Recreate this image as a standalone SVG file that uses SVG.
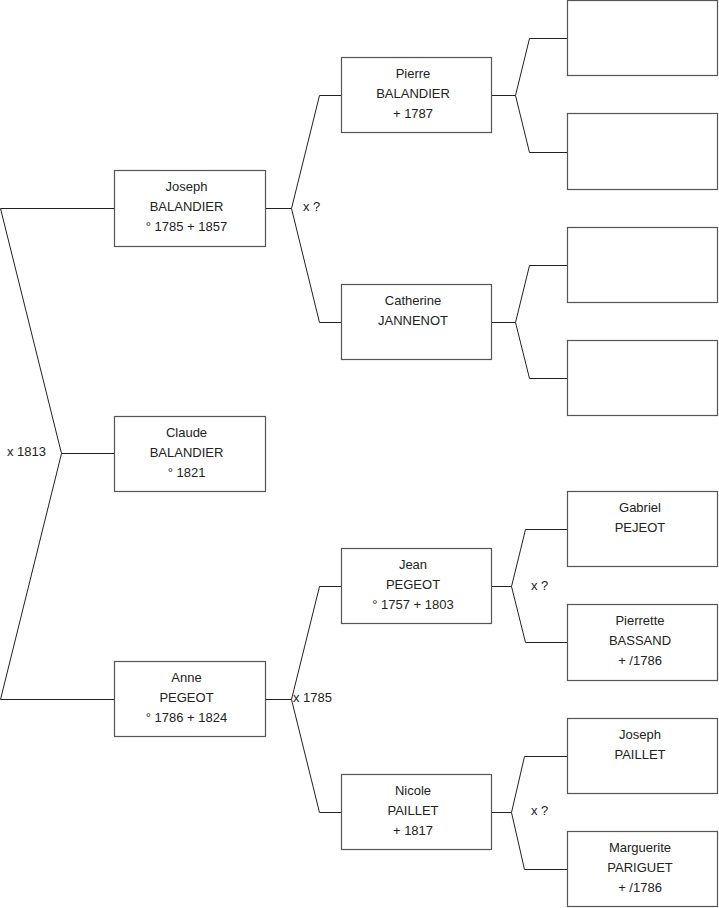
<svg xmlns="http://www.w3.org/2000/svg" width="719" height="908" viewBox="0 0 719 908">
<style>
  .box { fill: #ffffff; stroke: #555555; stroke-width: 1.2; }
  .t { font-family: "Liberation Sans", Arial, sans-serif; font-size: 13px; fill: #222222; text-anchor: middle; }
  .lbl { font-family: "Liberation Sans", Arial, sans-serif; font-size: 13px; fill: #222222; }
  .c { fill: none; stroke: #222222; stroke-width: 1; }
</style>
<rect x="0" y="0" width="719" height="908" fill="#ffffff"/>
<g id="connectors">
  <polyline class="c" points="114,208.5 0.5,208.5 61.5,453.5 0.5,699.5 114,699.5"/>
  <line class="c" x1="61.5" y1="453.5" x2="114" y2="453.5"/>
  <polyline class="c" points="341,95.5 319.5,95.5 291.5,208.5 319.5,322.5 341,322.5"/>
  <line class="c" x1="265" y1="208.5" x2="291.5" y2="208.5"/>
  <polyline class="c" points="341,586.5 319.5,586.5 291.5,699.5 319.5,812.5 341,812.5"/>
  <line class="c" x1="265" y1="699.5" x2="291.5" y2="699.5"/>
  <polyline class="c" points="567,38.5 529.5,38.5 515.5,95.5 529.5,152.5 567,152.5"/>
  <line class="c" x1="492" y1="95.5" x2="515.5" y2="95.5"/>
  <polyline class="c" points="567,265.5 529.5,265.5 515.5,322.5 529.5,378.5 567,378.5"/>
  <line class="c" x1="492" y1="322.5" x2="515.5" y2="322.5"/>
  <polyline class="c" points="567,529.5 525.5,529.5 511.5,586.5 525.5,642.5 567,642.5"/>
  <line class="c" x1="492" y1="586.5" x2="511.5" y2="586.5"/>
  <polyline class="c" points="567,756.5 524.5,756.5 511.5,812.5 524.5,869.5 567,869.5"/>
  <line class="c" x1="492" y1="812.5" x2="511.5" y2="812.5"/>
  <text class="lbl" x="7" y="456">x 1813</text>
  <text class="lbl" x="303" y="211">x ?</text>
  <text class="lbl" x="293" y="702">x 1785</text>
  <text class="lbl" x="531" y="590">x ?</text>
  <text class="lbl" x="531" y="815">x ?</text>
</g>
<g id="joseph-balandier">
  <rect class="box" x="114.5" y="170.5" width="151" height="76"/>
  <text class="t" x="186.5" y="190.5">Joseph</text>
  <text class="t" x="186.5" y="210.5">BALANDIER</text>
  <text class="t" x="186.5" y="230.5">° 1785 + 1857</text>
</g>
<g id="claude-balandier">
  <rect class="box" x="114.5" y="416.5" width="151" height="75"/>
  <text class="t" x="186.5" y="436.5">Claude</text>
  <text class="t" x="186.5" y="456.5">BALANDIER</text>
  <text class="t" x="186.5" y="476.5">° 1821</text>
</g>
<g id="anne-pegeot">
  <rect class="box" x="114.5" y="661.5" width="151" height="75"/>
  <text class="t" x="186.5" y="681.5">Anne</text>
  <text class="t" x="186.5" y="701.5">PEGEOT</text>
  <text class="t" x="186.5" y="721.5">° 1786 + 1824</text>
</g>
<g id="pierre-balandier">
  <rect class="box" x="341.5" y="57.5" width="150" height="75"/>
  <text class="t" x="413" y="77.5">Pierre</text>
  <text class="t" x="413" y="97.5">BALANDIER</text>
  <text class="t" x="413" y="117.5">+ 1787</text>
</g>
<g id="catherine-jannenot">
  <rect class="box" x="341.5" y="284.5" width="150" height="75"/>
  <text class="t" x="413" y="304.5">Catherine</text>
  <text class="t" x="413" y="324.5">JANNENOT</text>
</g>
<g id="jean-pegeot">
  <rect class="box" x="341.5" y="548.5" width="150" height="75"/>
  <text class="t" x="413" y="568.5">Jean</text>
  <text class="t" x="413" y="588.5">PEGEOT</text>
  <text class="t" x="413" y="608.5">° 1757 + 1803</text>
</g>
<g id="nicole-paillet">
  <rect class="box" x="341.5" y="774.5" width="150" height="75"/>
  <text class="t" x="413" y="794.5">Nicole</text>
  <text class="t" x="413" y="814.5">PAILLET</text>
  <text class="t" x="413" y="834.5">+ 1817</text>
</g>
<g id="unknown-1">
  <rect class="box" x="567.5" y="0.5" width="150" height="75"/>
</g>
<g id="unknown-2">
  <rect class="box" x="567.5" y="113.5" width="150" height="76"/>
</g>
<g id="unknown-3">
  <rect class="box" x="567.5" y="227.5" width="150" height="75"/>
</g>
<g id="unknown-4">
  <rect class="box" x="567.5" y="340.5" width="150" height="75"/>
</g>
<g id="gabriel-pejeot">
  <rect class="box" x="567.5" y="491.5" width="150" height="75"/>
  <text class="t" x="640" y="511.5">Gabriel</text>
  <text class="t" x="640" y="531.5">PEJEOT</text>
</g>
<g id="pierrette-bassand">
  <rect class="box" x="567.5" y="604.5" width="150" height="76"/>
  <text class="t" x="640" y="624.5">Pierrette</text>
  <text class="t" x="640" y="644.5">BASSAND</text>
  <text class="t" x="640" y="664.5">+ /1786</text>
</g>
<g id="joseph-paillet">
  <rect class="box" x="567.5" y="718.5" width="150" height="75"/>
  <text class="t" x="640" y="738.5">Joseph</text>
  <text class="t" x="640" y="758.5">PAILLET</text>
</g>
<g id="marguerite-pariguet">
  <rect class="box" x="567.5" y="831.5" width="150" height="75"/>
  <text class="t" x="640" y="851.5">Marguerite</text>
  <text class="t" x="640" y="871.5">PARIGUET</text>
  <text class="t" x="640" y="891.5">+ /1786</text>
</g>
</svg>
